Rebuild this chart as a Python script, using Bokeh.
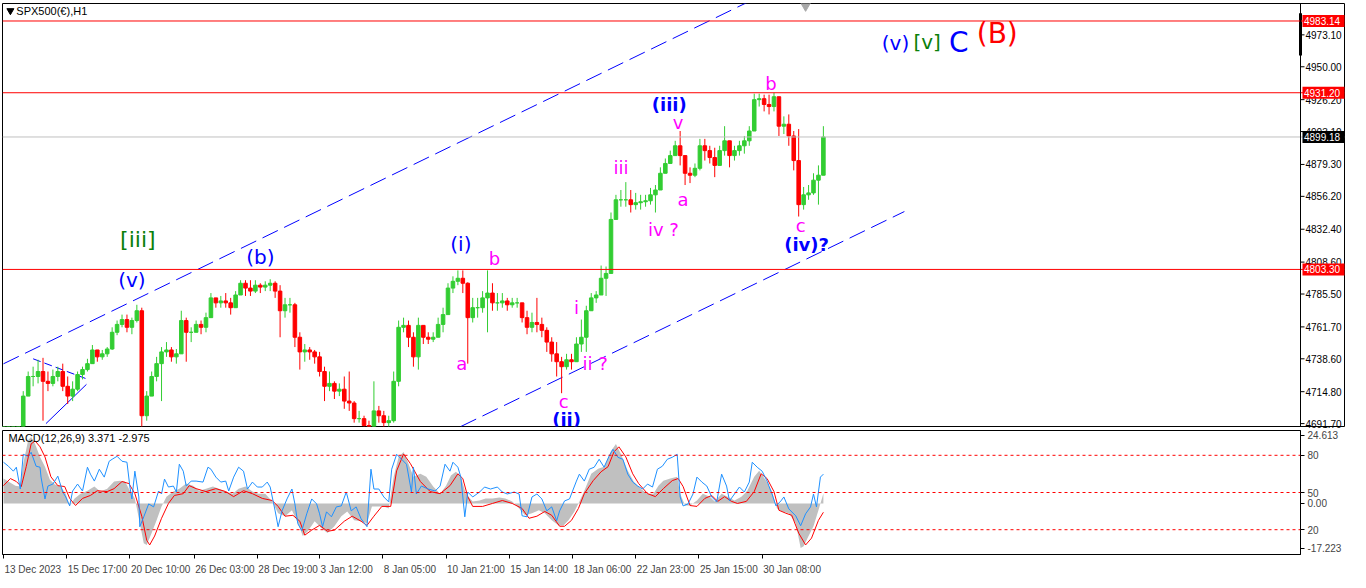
from bokeh.plotting import figure
from bokeh.layouts import column
from bokeh.models import Range1d, FixedTicker, Span, PrintfTickFormatter
from bokeh.core.properties import value
from bokeh.embed import file_html
from bokeh.resources import INLINE

# ---------------- price data (H1 bars grouped by 5 hours) ----------------
bar_x = list(range(5, 840, 5))
first_open = 4675.0
bar_high = [
    4681, 4684, 4686, 4686.7, 4715.2, 4729.4, 4732.9, 4737.9, 4739.3, 4729.4,
    4730.8, 4732.9, 4735.1, 4725.8, 4722.3, 4729.4, 4732.9, 4738.6, 4748.6, 4745.0,
    4745.0, 4747.1, 4761.4, 4766.3, 4770.6, 4770.6, 4768.4, 4777.7, 4775.6, 4715.2,
    4729.4, 4740.0, 4747.1, 4750.7, 4747.1, 4745.7, 4773.4, 4768.4, 4761.4, 4766.3,
    4766.3, 4772.0, 4786.2, 4782.7, 4784.1, 4786.2, 4782.7, 4787.6, 4795.5, 4795.5,
    4795.5, 4795.5, 4793.3, 4794.7, 4796.2, 4794.7, 4791.9, 4782.7, 4782.7, 4779.1,
    4757.8, 4749.3, 4747.1, 4745.0, 4743.6, 4732.9, 4729.4, 4722.3, 4720.8, 4725.8,
    4729.4, 4708.0, 4700.9, 4697.4, 4693.8, 4722.3, 4704.5, 4700.9, 4697.4, 4729.4,
    4766.3, 4768.4, 4766.3, 4757.8, 4768.4, 4761.4, 4757.8, 4757.8, 4768.4, 4775.6,
    4793.3, 4798.3, 4802.6, 4802.6, 4794.0, 4782.7, 4782.7, 4787.6, 4802.6, 4793.3,
    4786.2, 4786.2, 4782.7, 4782.7, 4782.7, 4775.6, 4773.4, 4772.0, 4782.7, 4768.4,
    4761.4, 4754.2, 4750.7, 4740.0, 4742.2, 4742.2, 4754.2, 4767.0, 4777.0, 4786.2,
    4787.6, 4806.1, 4805.4, 4844.5, 4857.3, 4860.8, 4866.5, 4860.8, 4858.7, 4857.3,
    4857.3, 4862.3, 4864.4, 4877.2, 4883.6, 4889.3, 4896.4, 4903.5, 4885.7, 4877.2,
    4880.0, 4897.8, 4897.8, 4892.8, 4891.4, 4892.8, 4907.0, 4894.2, 4892.8, 4896.4,
    4899.9, 4907.0, 4930.5, 4930.5, 4929.8, 4929.8, 4931.2, 4928.3, 4914.1, 4915.5,
    4903.5, 4904.9, 4863.0, 4864.4, 4872.9, 4878.6, 4907.0]
bar_low = [
    4672, 4675, 4677, 4679.6, 4690.3, 4711.6, 4718.7, 4720.8, 4693.8, 4715.2,
    4718.7, 4722.3, 4715.2, 4705.9, 4708.0, 4715.2, 4723.7, 4729.4, 4736.5, 4736.5,
    4737.9, 4740.0, 4745.0, 4755.7, 4761.4, 4757.8, 4756.4, 4764.9, 4686.7, 4693.8,
    4711.6, 4722.3, 4708.0, 4740.0, 4736.5, 4735.1, 4742.2, 4736.5, 4750.7, 4757.8,
    4756.4, 4757.8, 4773.4, 4775.6, 4775.6, 4775.6, 4770.6, 4775.6, 4786.2, 4784.1,
    4784.1, 4786.2, 4786.2, 4787.6, 4787.6, 4782.7, 4754.2, 4768.4, 4772.0, 4747.1,
    4730.8, 4736.5, 4737.9, 4735.1, 4725.8, 4708.0, 4715.2, 4709.5, 4711.6, 4702.4,
    4700.9, 4692.4, 4692.4, 4686.7, 4683.2, 4690.3, 4692.4, 4686.7, 4686.7, 4692.4,
    4718.7, 4757.8, 4747.1, 4732.9, 4730.8, 4749.3, 4749.3, 4750.7, 4754.2, 4757.8,
    4772.0, 4786.2, 4791.9, 4786.2, 4735.1, 4764.9, 4768.4, 4772.0, 4757.8, 4773.4,
    4773.4, 4775.6, 4773.4, 4775.6, 4775.6, 4764.9, 4756.4, 4757.8, 4757.8, 4754.2,
    4743.6, 4736.5, 4725.8, 4713.7, 4730.8, 4730.8, 4736.5, 4743.6, 4743.6, 4775.6,
    4779.1, 4786.2, 4784.1, 4800.4, 4839.5, 4848.7, 4848.7, 4844.5, 4846.6, 4846.6,
    4848.7, 4850.2, 4844.5, 4860.8, 4872.9, 4880.0, 4885.7, 4878.6, 4864.4, 4865.8,
    4870.1, 4875.0, 4882.1, 4880.0, 4870.1, 4878.6, 4885.7, 4877.2, 4882.1, 4885.7,
    4887.1, 4892.8, 4903.5, 4921.2, 4917.7, 4915.5, 4917.7, 4899.9, 4901.3, 4892.8,
    4875.0, 4841.6, 4846.6, 4853.7, 4857.3, 4850.2, 4875.0]
bar_close = [
    4678, 4680, 4683, 4683.2, 4711.6, 4725.8, 4725.8, 4729.4, 4722.3, 4720.8,
    4725.8, 4729.4, 4718.7, 4711.6, 4716.6, 4727.2, 4730.8, 4735.1, 4745.0, 4740.0,
    4742.2, 4745.7, 4757.8, 4763.5, 4767.0, 4761.4, 4766.3, 4773.4, 4697.4, 4711.6,
    4725.8, 4735.1, 4743.6, 4745.0, 4740.0, 4742.2, 4766.3, 4757.8, 4757.8, 4763.5,
    4761.4, 4768.4, 4782.7, 4779.1, 4780.5, 4779.1, 4775.6, 4784.8, 4793.3, 4789.8,
    4787.6, 4791.9, 4790.5, 4791.9, 4793.3, 4787.6, 4773.4, 4777.7, 4777.7, 4754.2,
    4743.6, 4745.0, 4743.6, 4740.0, 4729.4, 4718.7, 4720.8, 4715.2, 4716.6, 4708.0,
    4706.6, 4695.3, 4695.3, 4690.3, 4686.7, 4700.9, 4697.4, 4692.4, 4693.8, 4722.3,
    4761.4, 4762.8, 4754.2, 4740.0, 4762.8, 4754.2, 4752.8, 4754.2, 4763.5, 4770.6,
    4789.8, 4794.7, 4796.9, 4793.3, 4768.4, 4775.6, 4775.6, 4782.7, 4786.2, 4779.1,
    4779.1, 4780.5, 4777.7, 4779.1, 4779.1, 4768.4, 4761.4, 4764.9, 4763.5, 4759.2,
    4750.7, 4742.2, 4736.5, 4732.9, 4737.9, 4736.5, 4749.3, 4754.2, 4773.4, 4782.7,
    4784.8, 4796.9, 4800.4, 4839.5, 4853.7, 4853.7, 4853.7, 4850.2, 4851.6, 4852.3,
    4853.0, 4857.3, 4860.8, 4872.9, 4880.0, 4885.7, 4892.8, 4885.7, 4872.9, 4871.5,
    4876.5, 4892.8, 4889.3, 4884.3, 4878.6, 4889.3, 4896.4, 4885.7, 4889.3, 4892.8,
    4896.4, 4903.5, 4926.2, 4926.9, 4922.7, 4921.2, 4928.3, 4907.0, 4908.4, 4899.9,
    4882.1, 4850.2, 4857.3, 4858.7, 4867.9, 4871.5, 4899.18]

price_ticks = [4973.10, 4950.00, 4926.20, 4903.10, 4879.30, 4856.20, 4832.40,
               4808.60, 4785.50, 4761.70, 4738.60, 4714.80, 4691.70]
red_levels = [4983.14, 4931.20, 4803.30]
last_price = 4899.18

# channel lines (bar index, price)
upper_channel = [(5, 4735.0), (770, 5000.8)]
lower_channel = [(468, 4689.6), (917, 4845.2)]
small_dash = [(35, 4738.6), (88, 4724.4)]
small_solid = [(48, 4691.7), (89, 4720.1)]

# ---------------- MACD panel data ----------------
macd_x = [5, 10, 17, 22, 25, 30, 33, 37, 42, 47, 52, 57, 63, 68, 72, 77, 83, 90, 97, 103,
          110, 117, 123, 128, 133, 138, 143, 147, 150, 155, 160, 165, 170, 177, 183, 190,
          197, 203, 210, 217, 223, 230, 237, 243, 250, 257, 263, 270, 277, 283, 290, 297,
          303, 308, 313, 320, 327, 333, 340, 347, 353, 360, 367, 373, 378, 383, 390, 395,
          400, 405, 410, 415, 420, 427, 433, 440, 447, 453, 458, 463, 468, 473, 480, 487,
          493, 500, 507, 513, 520, 527, 533, 540, 547, 553, 560, 567, 572, 577, 583, 588,
          593, 600, 607, 613, 620, 625, 630, 637, 643, 650, 657, 663, 668, 673, 680, 687,
          690, 695, 700, 707, 713, 720, 725, 732, 738, 745, 752, 758, 765, 770, 777, 783,
          788, 793, 800, 807, 812, 815, 820, 825, 830, 835]
macd_main = [8.4, 7.4, 6.0, 5.7, 13.4, 21.4, 22.4, 20.1, 15.7, 12.4, 8.0, 6.4, 5.7, 3.3, -0.7,
             1.7, 3.3, 4.3, 5.7, 4.0, 5.0, 7.4, 7.7, 7.4, 4.3, 1.7, -6.7, -13.4, -14.0, -10.0,
             -5.7, -1.0, 2.3, 4.0, 5.0, 6.7, 6.0, 4.3, 5.0, 5.7, 5.0, 4.0, 3.3, 5.0, 5.7, 4.0,
             3.3, 3.3, 0.7, -3.3, -4.3, -2.3, -6.7, -11.0, -9.4, -6.0, -8.4, -10.0, -7.7, -4.3,
             -2.7, -5.7, -6.0, -6.7, -1.0, -1.0, -1.0, -1.7, 9.0, 15.7, 17.4, 13.4, 9.0, 10.0,
             9.0, 5.7, 3.3, 6.0, 9.4, 10.7, 9.0, 3.3, 0.7, 1.0, 1.7, 1.7, 2.0, 1.7, 0.7, -1.7,
             -4.0, -3.3, -2.3, -3.3, -5.7, -7.4, -7.4, -5.7, -2.7, 0.7, 4.3, 10.0, 11.7, 12.4,
             17.7, 20.1, 16.7, 11.0, 7.4, 5.0, 3.3, 3.3, 6.0, 7.7, 8.4, 9.0, 3.3, -0.7, -0.7,
             1.0, 3.3, 2.3, 0.7, 3.3, 2.3, 1.0, 2.3, 4.3, 9.0, 11.0, 7.7, 4.0, -1.7, -2.7, -3.3,
             -6.7, -15.0, -14.4, -11.0, -7.7, -2.3, 3.371]

signal_x = [5, 12, 18, 23, 28, 33, 37, 42, 47, 53, 60, 67, 72, 78, 85, 93, 100, 110, 117, 125,
            132, 138, 145, 150, 153, 158, 165, 172, 178, 187, 193, 200, 210, 220, 230, 238,
            248, 257, 267, 277, 283, 290, 298, 305, 310, 317, 325, 333, 340, 350, 358, 367,
            373, 380, 388, 397, 403, 410, 417, 427, 437, 447, 457, 465, 470, 475, 480, 490,
            500, 510, 520, 530, 537, 545, 553, 560, 568, 573, 580, 587, 593, 602, 610, 617,
            623, 628, 635, 642, 648, 657, 665, 673, 682, 688, 693, 700, 707, 715, 722, 728,
            735, 742, 748, 757, 765, 772, 778, 785, 790, 797, 803, 810, 817, 823, 830, 835]
macd_signal = [6.0, 8.4, 7.4, 5.7, 12.4, 20.1, 21.1, 19.1, 15.7, 9.0, 6.0, 5.7, 1.7, -0.7, 1.7,
               2.7, 4.3, 4.0, 5.0, 7.4, 6.7, 3.3, -4.3, -12.4, -14.0, -11.0, -5.0, 0.0, 2.7,
               3.3, 6.0, 5.0, 4.0, 5.0, 4.0, 2.3, 4.3, 3.3, 1.7, 1.0, -1.0, -4.3, -4.0, -6.0,
               -10.7, -9.0, -7.4, -9.4, -9.0, -6.0, -4.3, -6.0, -7.4, -4.3, -1.0, -1.0, 11.0,
               16.7, 13.4, 7.4, 4.0, 3.3, 6.0, 10.0, 8.4, 2.3, -1.0, -1.0, 0.0, 1.0, 0.0, -1.7,
               -5.0, -4.3, -2.7, -4.0, -7.7, -7.7, -5.7, -1.7, 3.3, 7.7, 10.7, 12.4, 17.4, 19.1,
               15.7, 10.0, 6.7, 3.3, 2.3, 5.0, 7.7, 8.4, 5.7, -0.7, -1.0, 1.7, 2.7, 0.7, 2.3,
               0.7, 0.0, 0.7, 4.0, 10.0, 8.4, 4.0, -2.3, -3.3, -4.0, -10.0, -14.0, -11.7, -5.7,
               -2.975]

osc_x = [5, 10, 15, 18, 22, 25, 30, 33, 38, 42, 43, 47, 50, 55, 60, 65, 68, 72, 75, 80, 85,
         90, 93, 97, 102, 107, 112, 115, 120, 125, 130, 133, 135, 138, 142, 143, 147, 152,
         157, 162, 165, 168, 172, 177, 180, 183, 187, 190, 195, 200, 207, 212, 215, 220, 225,
         230, 233, 238, 243, 248, 252, 257, 262, 267, 272, 275, 280, 283, 287, 292, 297, 300,
         303, 307, 312, 317, 322, 325, 328, 332, 337, 342, 347, 352, 357, 362, 367, 373, 377,
         380, 385, 390, 395, 398, 403, 408, 413, 418, 420, 423, 428, 435, 442, 447, 452, 457,
         460, 465, 468, 472, 475, 480, 487, 492, 498, 505, 510, 515, 522, 527, 530, 535, 540,
         545, 550, 555, 560, 565, 568, 573, 578, 585, 588, 593, 598, 603, 608, 613, 618, 622,
         627, 632, 637, 642, 647, 652, 657, 662, 667, 672, 677, 682, 687, 690, 693, 698, 703,
         707, 712, 717, 722, 727, 732, 737, 740, 745, 750, 755, 760, 763, 768, 773, 778, 783,
         787, 792, 795, 800, 807, 812, 817, 822, 825, 828, 832, 835]
osc_val = [74.4, 71.2, 67.2, 70.4, 52.8, 80.8, 79.2, 82.4, 71.2, 70.4, 62.4, 44.8, 55.2, 56.8,
           63.2, 50.4, 46.4, 39.2, 51.2, 56.8, 51.2, 70.4, 64.8, 59.2, 68.8, 62.4, 75.2, 76.8,
           79.2, 75.2, 74.4, 54.4, 44.8, 67.2, 46.4, 22.4, 30.4, 40.8, 38.4, 51.2, 48.8, 60.8,
           54.4, 55.2, 50.4, 72.8, 67.2, 55.2, 59.2, 59.2, 58.4, 70.4, 68.8, 62.4, 58.4, 59.2,
           51.2, 62.4, 70.4, 67.2, 52.8, 58.4, 54.4, 54.4, 58.4, 54.4, 35.2, 22.4, 35.2, 44.8,
           52.8, 40.8, 24.8, 19.2, 32.8, 44.8, 40.8, 32.8, 22.4, 34.4, 30.4, 38.4, 39.2, 50.4,
           35.2, 38.4, 28.8, 22.4, 68.8, 52.8, 52.8, 46.4, 42.4, 68.8, 80.8, 76.8, 72.8, 50.4,
           70.4, 48.8, 55.2, 52.8, 51.2, 55.2, 72.8, 67.2, 74.4, 70.4, 62.4, 30.4, 50.4, 46.4,
           50.4, 54.4, 52.8, 54.4, 50.4, 48.8, 50.4, 48.8, 31.2, 30.4, 46.4, 48.8, 44.8, 35.2,
           38.4, 27.2, 35.2, 43.2, 44.8, 59.2, 64.8, 59.2, 68.8, 70.4, 76.8, 70.4, 79.2, 84.8,
           78.4, 76.8, 64.8, 58.4, 55.2, 52.8, 56.8, 54.4, 68.8, 71.2, 76.8, 78.4, 80.8, 46.4,
           39.2, 40.8, 48.8, 62.4, 58.4, 55.2, 46.4, 42.4, 64.8, 55.2, 43.2, 48.8, 54.4, 50.4,
           58.4, 74.4, 70.4, 67.2, 59.2, 48.8, 39.2, 43.2, 46.4, 36.8, 31.2, 23.2, 32.8, 38.4,
           48.8, 38.4, 62.4, 64.8]
osc_levels = [80, 50, 20]
macd_range = (-17.223, 24.613)
macd_axis_labels = ["24.613", "80", "50", "0.00", "20", "-17.223"]

date_ticks = [5, 69, 133, 198, 262, 325, 389, 453, 517, 581, 645, 709, 773]
date_labels = ["13 Dec 2023", "15 Dec 17:00", "20 Dec 10:00", "26 Dec 03:00", "28 Dec 19:00",
               "3 Jan 12:00", "8 Jan 05:00", "10 Jan 21:00", "15 Jan 14:00", "18 Jan 06:00",
               "22 Jan 23:00", "25 Jan 15:00", "30 Jan 08:00"]

# ---------------- derived candle values ----------------
bar_open = [first_open] + bar_close[:-1]
hi = [max(h, o, c) for h, o, c in zip(bar_high, bar_open, bar_close)]
lo = [min(l, o, c) for l, o, c in zip(bar_low, bar_open, bar_close)]
top = [max(o, c) for o, c in zip(bar_open, bar_close)]
bot = [min(o, c) for o, c in zip(bar_open, bar_close)]
UP, DOWN = "#32cd32", "#ff0000"
cols = [UP if c >= o else DOWN for o, c in zip(bar_open, bar_close)]

AXIS_FONT = "Liberation Sans"
AXIS_PX = 10
FW = 1298                      # width of the MACD frame (bars 4..1318)
UNIT = (1318 - 4) / FW         # bar units per pixel
AX_X = 1318                    # x position of the price axis line
FW_MAIN = 1342                 # main frame also covers the price scale column
X_END_MAIN = 4 + FW_MAIN * UNIT
Y_MAIN = (4689.6, 4995.8)

# ---------------- main price figure ----------------
p = figure(frame_width=FW_MAIN, frame_height=423, x_range=Range1d(4, X_END_MAIN),
           y_range=Range1d(*Y_MAIN), y_axis_location="right", x_axis_location=None,
           toolbar_location=None, output_backend="svg", min_border_left=2,
           min_border_right=6, min_border_top=3, min_border_bottom=3)
p.grid.visible = False
p.outline_line_color = "black"
p.background_fill_color = "white"
p.border_fill_color = "white"
ya = p.yaxis[0]
ya.ticker = FixedTicker(ticks=price_ticks)
ya.formatter = PrintfTickFormatter(format="%.2f")
ya.major_tick_out = 0
ya.major_tick_in = 0
ya.minor_tick_line_color = None
ya.axis_line_color = None
ya.major_label_text_font = AXIS_FONT
ya.major_label_text_font_size = f"{AXIS_PX}px"
ya.major_label_text_color = "black"
ya.major_label_standoff = -int(round((X_END_MAIN - (AX_X + 5)) / UNIT))

for lv in red_levels:
    p.add_layout(Span(location=lv, dimension="width", line_color="red", line_width=1))
p.add_layout(Span(location=last_price, dimension="width", line_color="#c0c0c0", line_width=1))
p.add_layout(Span(location=AX_X, dimension="height", line_color="black", line_width=1))
# tick marks of the price scale
p.segment(x0=[AX_X] * len(price_ticks), x1=[AX_X + 4 * UNIT] * len(price_ticks),
          y0=price_ticks, y1=price_ticks, line_color="black", line_width=1)
# scroll marker at the top of the price scale
p.segment(x0=[AX_X], x1=[AX_X], y0=[Y_MAIN[1] - 7.1], y1=[Y_MAIN[1] - 37.6],
          line_color="black", line_width=3)

for pts, dash in ((upper_channel, "17 7"), (lower_channel, "17 7"), (small_dash, "8 4")):
    p.line([pts[0][0], pts[1][0]], [pts[0][1], pts[1][1]], line_color="#0000ff",
           line_width=1, line_dash=dash)
p.line([small_solid[0][0], small_solid[1][0]], [small_solid[0][1], small_solid[1][1]],
       line_color="#0000ff", line_width=1)

p.segment(x0=bar_x, y0=lo, x1=bar_x, y1=hi, line_color=cols, line_width=1)
p.vbar(x=bar_x, width=3.6, top=top, bottom=bot, fill_color=cols, line_color=cols, line_width=1)

# title
p.scatter([12], [4990.6], marker="inverted_triangle", size=7, color="black")
p.text([18], [4990.6], text=["SPX500(€),H1"], text_font=value(AXIS_FONT), text_font_size="11px",
       text_color="black", text_align="left", text_baseline="middle")
p.scatter([817], [4994.3], marker="inverted_triangle", size=10, color="#a8a8a8")


def wave(txt, x, y, color, size, bold=False):
    p.text([x], [y], text=[txt], text_color=color, text_font=value("DejaVu Sans"),
           text_font_size=f"{size}px", text_align="center", text_baseline="middle",
           text_font_style="bold" if bold else "normal")


BLUE, MAG, GREEN = "#0000ff", "#ff00ff", "#0a800a"
wave("[iii]", 141, 4825.3, GREEN, 22)
wave("(v)", 135, 4795.5, BLUE, 20)
wave("(b)", 265, 4812.5, BLUE, 20)
wave("(i)", 468, 4821.7, BLUE, 20)
wave("b", 502, 4811.1, MAG, 18)
wave("a", 469, 4735.1, MAG, 18)
wave("i", 585, 4775.6, MAG, 18)
wave("ii ?", 604, 4735.1, MAG, 18)
wave("c", 572, 4708.0, MAG, 18)
wave("(ii)", 575, 4694.6, BLUE, 18, True)
wave("iii", 630, 4877.2, MAG, 18)
wave("iv ?", 673, 4832.4, MAG, 18)
wave("(iii)", 679, 4922.7, BLUE, 18, True)
wave("v", 688, 4909.9, MAG, 18)
wave("a", 693, 4853.7, MAG, 18)
wave("b", 782, 4937.6, MAG, 18)
wave("c", 812, 4835.3, MAG, 18)
wave("(iv)?", 818, 4821.0, BLUE, 18, True)
wave("(v)", 908, 4967.4, BLUE, 20)
wave("[v]", 940, 4968.1, GREEN, 20)
wave("C", 972, 4967.4, BLUE, 28)
wave("(B)", 1011, 4973.8, "#ff0000", 28)

# price tags on the price scale
tag_vals = red_levels + [last_price]
tag_cols = ["red"] * len(red_levels) + ["black"]
tag_x0 = AX_X + 2 * UNIT
tag_w = 42 * UNIT
r1 = p.rect(x=[tag_x0 + tag_w / 2] * len(tag_vals), y=tag_vals, width=tag_w, height=12,
            height_units="screen", fill_color=tag_cols, line_color=None)
r2 = p.text(x=[tag_x0 + 1.5 * UNIT] * len(tag_vals), y=tag_vals,
            text=[f"{v:.2f}" for v in tag_vals], text_color="white",
            text_font=value(AXIS_FONT), text_font_size=f"{AXIS_PX}px",
            text_align="left", text_baseline="middle")
r1.level = "overlay"
r2.level = "overlay"

# ---------------- MACD figure ----------------
m = figure(frame_width=FW, frame_height=124, x_range=Range1d(4, AX_X),
           y_range=Range1d(*macd_range), y_axis_location="right", toolbar_location=None,
           output_backend="svg", min_border_left=2, min_border_right=50,
           min_border_top=1, min_border_bottom=4)
m.extra_y_ranges = {"osc": Range1d(0, 100)}
m.grid.visible = False
m.outline_line_color = "black"
m.background_fill_color = "white"
m.border_fill_color = "white"

m.varea(x=macd_x, y1=[0] * len(macd_x), y2=macd_main, fill_color="#c0c0c0")
m.line(signal_x, macd_signal, line_color="red", line_width=1)
m.line(osc_x, osc_val, line_color="#1e90ff", line_width=1, y_range_name="osc")
for lv in osc_levels:
    m.add_layout(Span(location=lv, dimension="width", line_color="red", line_width=1,
                      line_dash="3 3", y_range_name="osc"))

span = macd_range[1] - macd_range[0]
# label positions on the MACD scale: top value, the three oscillator levels, zero, bottom value
lab_pos = [round(macd_range[1] - 0.037 * span, 3),
           round(macd_range[0] + 0.80 * span, 3),
           round(macd_range[0] + 0.50 * span, 3),
           0.0,
           round(macd_range[0] + 0.20 * span, 3),
           round(macd_range[0] + 0.052 * span, 3)]
my = m.yaxis[0]
my.ticker = FixedTicker(ticks=lab_pos)
my.major_label_overrides = {k: v for k, v in zip(lab_pos, macd_axis_labels)}
my.major_tick_out = 4
my.major_tick_in = 0
my.minor_tick_line_color = None
my.axis_line_color = "black"
my.major_label_text_font = AXIS_FONT
my.major_label_text_font_size = f"{AXIS_PX}px"
my.major_label_standoff = 3

# time axis: minor ticks mark the bar times, labels start at each tick (MT4 style)
CW = {"0": 556, "1": 556, "2": 556, "3": 556, "4": 556, "5": 556, "6": 556, "7": 556,
      "8": 556, "9": 556, " ": 278, ":": 278, "D": 722, "e": 556, "c": 500, "J": 500,
      "a": 556, "n": 556}
centers = [round(t + sum(CW.get(ch, 556) for ch in s) / 1000 * AXIS_PX * UNIT / 2 + UNIT, 2)
           for t, s in zip(date_ticks, date_labels)]
mx = m.xaxis[0]
mx.ticker = FixedTicker(ticks=centers, minor_ticks=date_ticks)
mx.major_label_overrides = {k: v for k, v in zip(centers, date_labels)}
mx.major_tick_out = 0
mx.major_tick_in = 0
mx.minor_tick_out = 4
mx.minor_tick_in = 0
mx.minor_tick_line_color = "black"
mx.major_tick_line_color = None
mx.axis_line_color = "black"
mx.major_label_standoff = 5
mx.major_label_text_font = AXIS_FONT
mx.major_label_text_font_size = f"{AXIS_PX}px"

m.text([10], [macd_range[1] - 0.06 * span], text=["MACD(12,26,9) 3.371 -2.975"],
       text_font=value(AXIS_FONT), text_font_size="11px", text_color="black",
       text_align="left", text_baseline="middle")

layout = column(p, m, spacing=0)
open("out.html", "w").write(file_html(layout, INLINE))
